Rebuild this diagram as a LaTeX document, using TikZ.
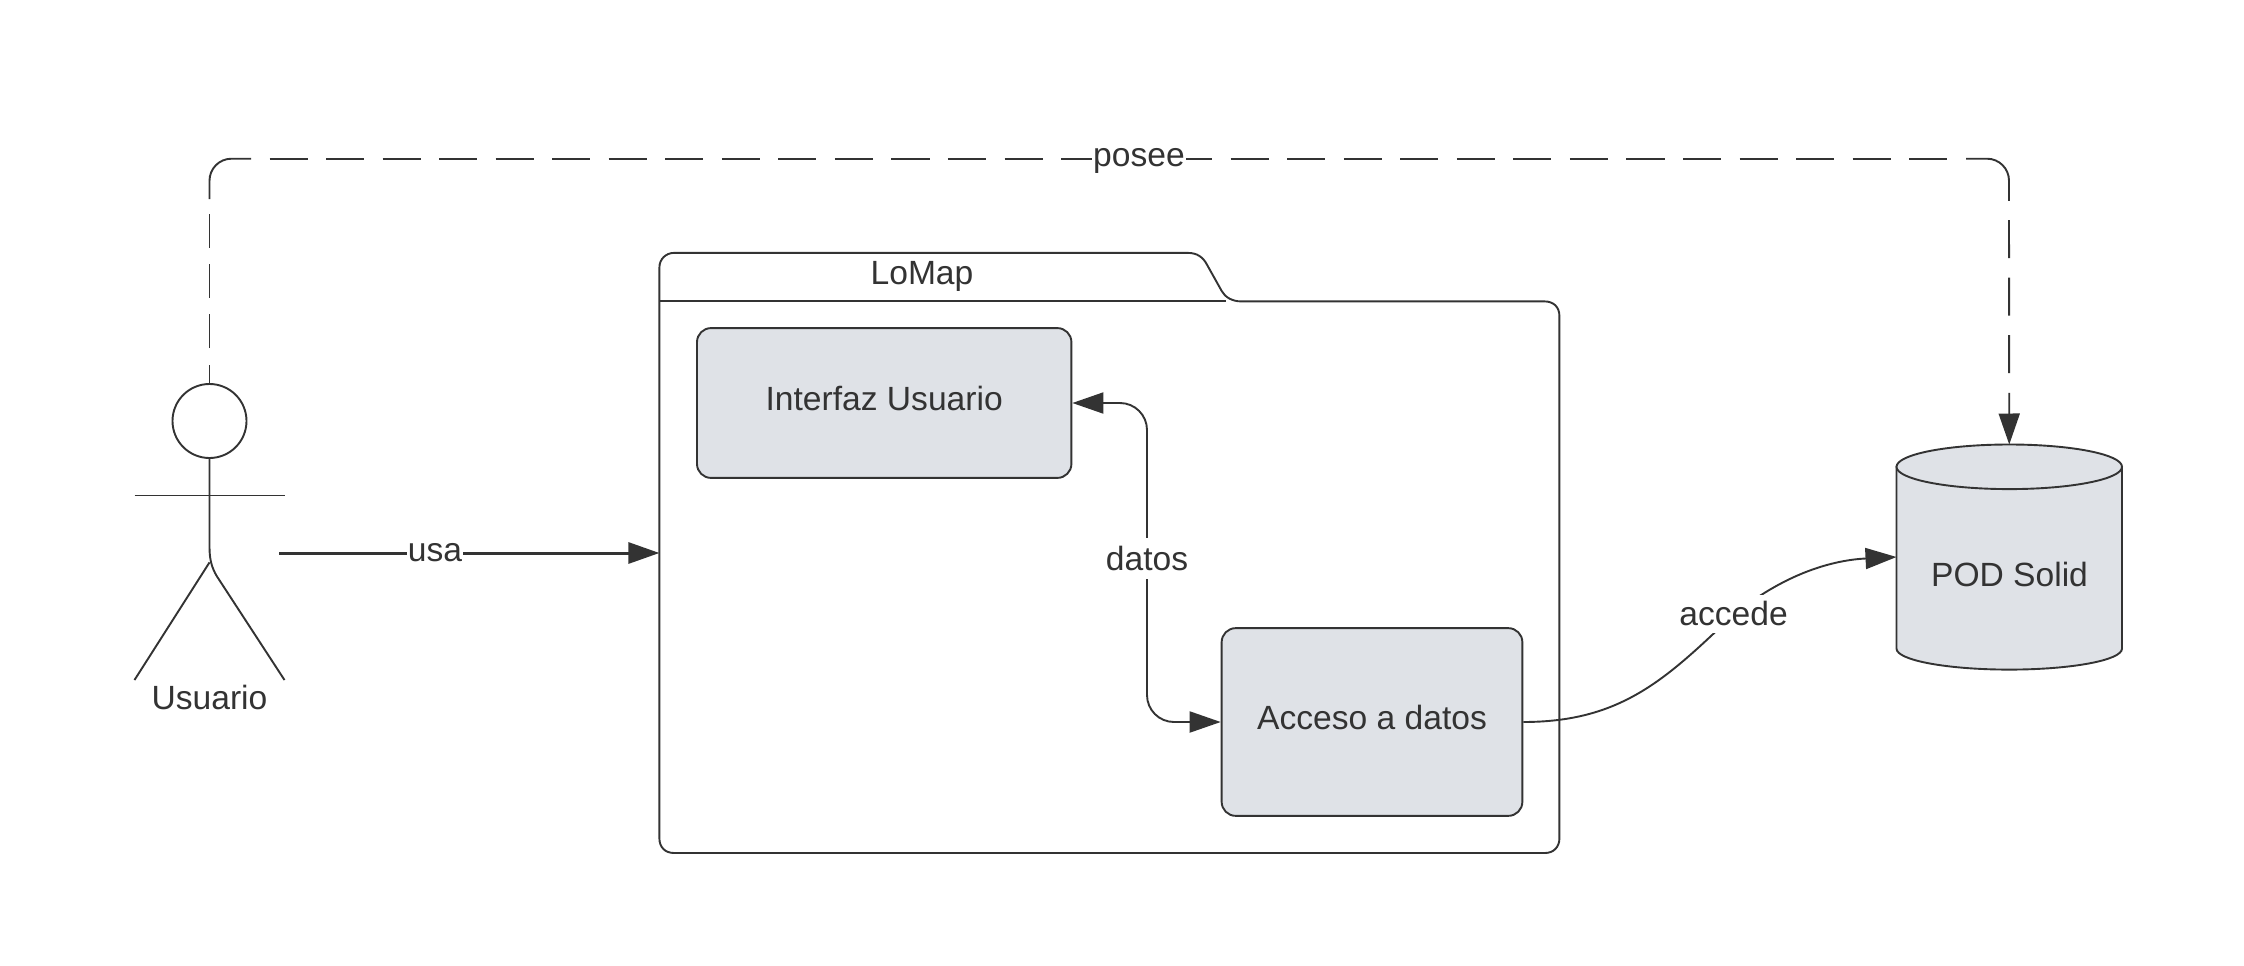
\documentclass[tikz,border=0pt]{standalone}
\usepackage{fontspec}
\setmainfont{Liberation Sans}
\usetikzlibrary{arrows.meta}
\definecolor{ink}{HTML}{333333}
\definecolor{boxfill}{HTML}{DFE2E7}
\tikzset{
  line/.style={draw=ink,line width=1.9pt},
  arrowtip/.style={-{Triangle[length=31pt,width=21pt,fill=ink]}},
  box/.style={line,fill=boxfill,rounded corners=14pt,inner sep=0pt,text=ink,font=\txt,text height=20pt,text depth=6pt},
  ghost/.style={inner sep=0pt,outer sep=0pt},
  lbl/.style={fill=white,text=ink,font=\txt,inner xsep=1pt,inner ysep=0pt},
  plain/.style={text=ink,font=\txt,inner sep=0pt},
}
\newcommand{\txt}{\fontsize{33.6}{40}\selectfont}
\begin{document}
\begin{tikzpicture}[x=1pt,y=-1pt]
\useasboundingbox[fill=white] (0,0) rectangle (2244,966);
% package
\node[ghost,minimum width=900pt,minimum height=600.1pt] (pkg) at (1109.4,553) {};
\draw[line] (659.4,267.5) .. controls (659.4,259) and (666,252.9) .. (674,252.9)
  -- (1187.8,252.9) .. controls (1197,252.9) and (1203,257) .. (1207,264.7)
  -- (1221.7,291) .. controls (1225,297) and (1232,301.4) .. (1241,301.4)
  -- (1544.5,301.4) .. controls (1553.5,301.4) and (1559.4,307) .. (1559.4,316)
  -- (1559.4,838.5) .. controls (1559.4,847) and (1553.5,853) .. (1545,853)
  -- (674,853) .. controls (665,853) and (659.4,847) .. (659.4,838.5) -- cycle;
\draw[line] (659.4,301.4) -- (1225.6,301.4);
\node[plain] (pkgname) at (922,276) {LoMap};
% boxes
\node[box,minimum width=374.4pt,minimum height=149.8pt] (inter) at (884.2,403) {Interfaz Usuario};
\node[box,minimum width=300.7pt,minimum height=187.7pt] (acc) at (1372,722) {Acceso a datos};
% cylinder
\node[ghost,minimum width=225.5pt,minimum height=225pt] (pod) at (2009.25,557) {};
\path[line,fill=boxfill] (1896.5,466.8) -- (1896.5,648.6)
  .. controls (1896.5,660.2) and (1947,669.6) .. (2009.25,669.6)
  .. controls (2071.5,669.6) and (2122,660.2) .. (2122,648.6) -- (2122,466.8) -- cycle;
\draw[line,fill=boxfill] (2009.25,466.8) ellipse [x radius=112.75pt,y radius=22.3pt];
\node[plain] (podname) at (2009.5,574.7) {POD Solid};
% actor
\node[line,fill=white,circle,inner sep=0pt,minimum size=74pt] (head) at (209.5,421) {};
\draw[line] (head.south) -- (209.5,547) .. controls (209.5,560) and (212,568) .. (216.7,576) -- (284.5,680);
\draw[line] (209.5,562.4) -- (134.5,680);
\draw[line] (134.5,495.5) -- (284.5,495.5);
\node[plain] (actor) at (209.5,697.5) {Usuario};
% posee (dashes and solid corners, as drawn)
\coordinate (a1) at (209.5,199);
\coordinate (a2) at (209.5,158.7);
\coordinate (a3) at (251,158.7);
\coordinate (a4) at (269.5,158.7);
\coordinate (a5) at (1947.4,158.7);
\coordinate (a6) at (1966,158.7);
\coordinate (a7) at (2009,158.7);
\coordinate (a8) at (2009,200.8);
\coordinate (a9) at (2009,220);
\draw[line,dash pattern=on 33.7pt off 16.5pt,dash phase=15.3pt] (head.north) -- (a1);
\draw[line,rounded corners=22pt] (a1) -- (a2) -- (a3);
\draw[line,dash pattern=on 38.1pt off 18.44pt] (a4) -- (a5);
\draw[line,rounded corners=22pt] (a6) -- (a7) -- (a8);
\draw[line,arrowtip,dash pattern=on 38pt off 19.6pt] (a9) -- (pod.north);
\node[lbl] (posee) at (1139,161) {posee};
% usa
\coordinate (usafrom) at (279,553);
\draw[line,line width=3pt,arrowtip] (usafrom) -- (pkg.west);
\node[lbl] (usa) at (435,552.5) {usa};
% datos
\coordinate (datosmid) at (1147,558);
\draw[line,rounded corners=27pt,{Triangle[length=31pt,width=21pt,fill=ink]}-{Triangle[length=31pt,width=21pt,fill=ink]}] (inter.east) -| (datosmid) |- (acc.west);
\node[lbl,minimum height=41pt] (datos) at (datosmid) {datos};
% accede
\coordinate (accmid) at (1730,618);
\draw[line,arrowtip] (acc.east) .. controls (1620,722) and (1665,680) .. (accmid) .. controls (1785,572) and (1835,560) .. (pod.west);
\node[lbl,minimum height=38pt] (accede) at (1733.6,613.5) {accede};
\end{tikzpicture}
\end{document}
